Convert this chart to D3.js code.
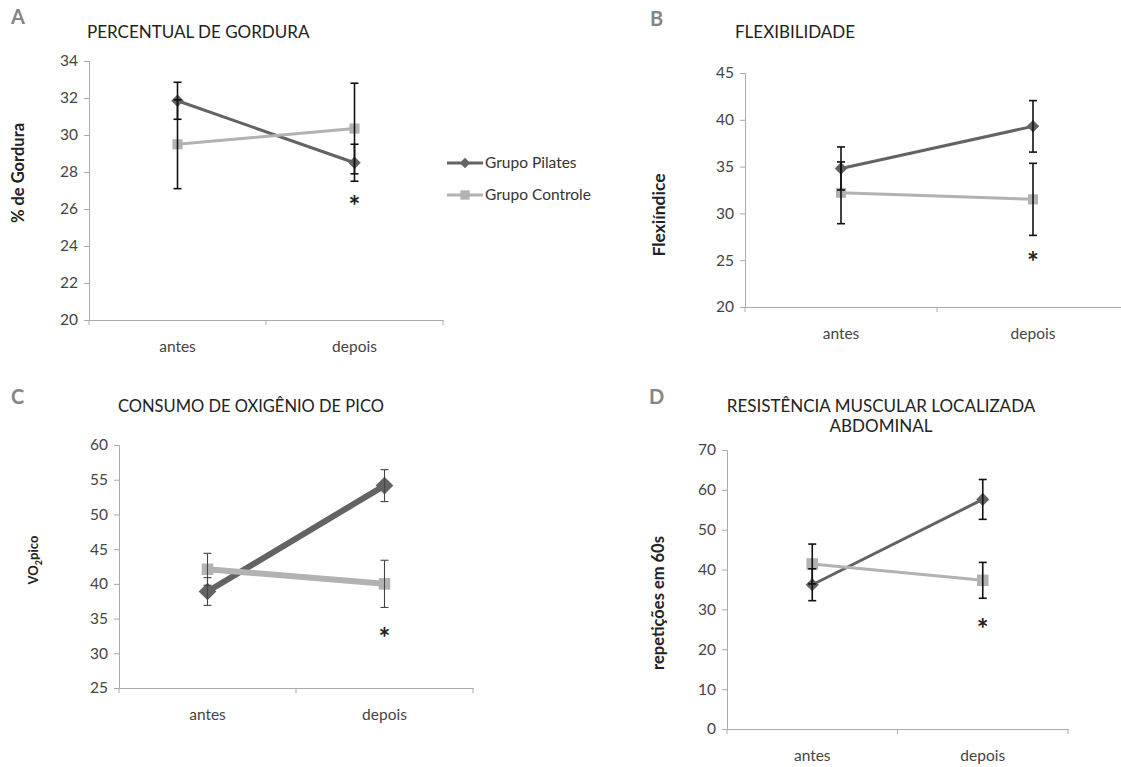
<!DOCTYPE html>
<html>
<head>
<meta charset="utf-8">
<script src="https://cdn.jsdelivr.net/npm/d3@7"></script>
<style>
  body { margin: 0; background: #fff; }
  text { font-family: Lato, "Open Sans", sans-serif; }
</style>
</head>
<body>
<script>
"use strict";

// Width and height
let w = 1121;
let h = 767;

let categories = ["antes", "depois"];
let seriesNames = ["Grupo Pilates", "Grupo Controle"];

// A - percentual de gordura
let gorduraPilates = [31.85, 28.5];
let gorduraPilatesErr = [1.0, 1.0];
let gorduraControle = [29.5, 30.35];
let gorduraControleErr = [2.4, 2.45];
let gorduraTicks = [20, 22, 24, 26, 28, 30, 32, 34];

// B - flexibilidade
let flexPilates = [34.8, 39.3];
let flexPilatesErr = [2.3, 2.75];
let flexControle = [32.2, 31.5];
let flexControleErr = [3.3, 3.85];
let flexTicks = [20, 25, 30, 35, 40, 45];

// C - VO2 pico
let vo2Pilates = [38.9, 54.15];
let vo2PilatesErr = [2.0, 2.3];
let vo2Controle = [42.1, 40.0];
let vo2ControleErr = [2.3, 3.4];
let vo2Ticks = [25, 30, 35, 40, 45, 50, 55, 60];

// D - resistencia abdominal
let abdPilates = [36.2, 57.6];
let abdPilatesErr = [4.0, 5.0];
let abdControle = [41.4, 37.3];
let abdControleErr = [5.0, 4.5];
let abdTicks = [0, 10, 20, 30, 40, 50, 60, 70];

let darkGray = "#636363";
let lightGray = "#b2b2b2";

let svg = d3.select("body")
    .append("svg")
    .attr("width", w)
    .attr("height", h);

function drawPanel(p) {
    let g = svg.append("g");

    let x = d3.scaleBand().domain(categories).range([p.x0, p.x1]);
    let y = d3.scaleLinear().domain(p.domain).range([p.y1, p.y0]);

    // axes
    let yAxis = g.append("g")
        .attr("transform", `translate(${p.x0},0)`)
        .call(d3.axisLeft(y).tickValues(p.ticks).tickSize(5).tickPadding(6));
    let xAxis = g.append("g")
        .attr("transform", `translate(0,${p.y1})`)
        .call(d3.axisBottom(x).tickSize(0).tickPadding(p.xPad));
    // excel-style ticks between categories
    xAxis.selectAll(".boundary")
        .data([p.x0, x("depois"), p.x1])
        .enter().append("line")
        .attr("x1", d => d).attr("x2", d => d)
        .attr("y1", 0).attr("y2", 5)
        .attr("stroke", "#aaa");
    for (let ax of [yAxis, xAxis]) {
        ax.select(".domain").attr("stroke", "#aaa");
        ax.selectAll(".tick line").attr("stroke", "#aaa");
        ax.selectAll("text").attr("fill", "#444").style("font-size", "15.5px");
        ax.attr("font-family", null);
    }

    let cx = d => x(d) + x.bandwidth() / 2;

    let series = [
        {vals: p.pil, err: p.pilErr, color: darkGray, shape: d3.symbolDiamond2, size: p.diaSize},
        {vals: p.con, err: p.conErr, color: lightGray, shape: d3.symbolSquare2, size: p.sqSize}
    ];

    let line = d3.line()
        .x((d, i) => cx(categories[i]))
        .y(d => y(d));

    for (let s of series) {
        g.append("path")
            .datum(s.vals)
            .attr("d", line)
            .attr("fill", "none")
            .attr("stroke", s.color)
            .attr("stroke-width", p.lw);
    }
    for (let s of series) {
        g.selectAll(null)
            .data(s.vals)
            .enter().append("path")
            .attr("transform", (d, i) => `translate(${cx(categories[i])},${y(d)})`)
            .attr("d", d3.symbol().type(s.shape).size(s.size))
            .attr("fill", s.color);
    }
    for (let s of series) {
        let eg = g.selectAll(null)
            .data(s.vals.map((v, i) => ({c: categories[i], v: v, e: s.err[i]})))
            .enter().append("g")
            .attr("stroke", p.errColor)
            .attr("stroke-width", p.errW);
        eg.append("line")
            .attr("x1", d => cx(d.c)).attr("x2", d => cx(d.c))
            .attr("y1", d => y(d.v + d.e)).attr("y2", d => y(d.v - d.e));
        for (let sgn of [1, -1]) {
            eg.append("line")
                .attr("x1", d => cx(d.c) - 4).attr("x2", d => cx(d.c) + 4)
                .attr("y1", d => y(d.v + sgn * d.e)).attr("y2", d => y(d.v + sgn * d.e));
        }
    }

    // significance mark (centre of the glyph sits on starAt)
    g.append("text")
        .attr("x", cx("depois"))
        .attr("y", y(p.starAt) + 16)
        .attr("text-anchor", "middle")
        .attr("fill", "#222")
        .style("font-size", "28px")
        .style("font-weight", "bold")
        .text("*");

    // panel letter
    g.append("text")
        .attr("x", p.letterX).attr("y", p.letterY)
        .attr("fill", "#858585")
        .style("font-size", "20px")
        .style("font-weight", "bold")
        .text(p.letter);

    // title
    let t = g.append("text")
        .attr("x", p.titleX).attr("y", p.titleY)
        .attr("text-anchor", p.titleAnchor)
        .attr("fill", "#222")
        .style("font-size", p.titleSize);
    p.title.forEach((s, i) => {
        t.append("tspan").attr("x", p.titleX).attr("dy", i ? 20 : 0).text(s);
    });

    // y label
    let yl = g.append("text")
        .attr("transform", `translate(${p.ylabX},${p.ylabY}) rotate(-90)`)
        .attr("text-anchor", "middle")
        .attr("fill", "#222")
        .style("font-size", p.ylabSize)
        .style("font-weight", "bold");
    if (p.ylabSub) {
        yl.append("tspan").text("VO");
        yl.append("tspan").attr("dy", 4).style("font-size", "9px").text("2");
        yl.append("tspan").attr("dy", -4).text("pico");
    } else {
        yl.text(p.ylab);
    }
}

drawPanel({
    letter: "A", letterX: 11, letterY: 24,
    title: ["PERCENTUAL DE GORDURA"], titleX: 87, titleY: 38, titleAnchor: "start", titleSize: "17px",
    ylab: "% de Gordura", ylabX: 24, ylabY: 173, ylabSize: "16.5px",
    x0: 89, x1: 443, y0: 61, y1: 320, domain: [20, 34], ticks: gorduraTicks, xPad: 21,
    pil: gorduraPilates, pilErr: gorduraPilatesErr, con: gorduraControle, conErr: gorduraControleErr,
    lw: 3, diaSize: 100, sqSize: 130, errColor: "#111", errW: 1.6, starAt: 26.5
});

drawPanel({
    letter: "B", letterX: 650, letterY: 26,
    title: ["FLEXIBILIDADE"], titleX: 735, titleY: 38, titleAnchor: "start", titleSize: "17px",
    ylab: "Flexiíndice", ylabX: 665, ylabY: 215, ylabSize: "17.5px",
    x0: 745, x1: 1129, y0: 73, y1: 307, domain: [20, 45], ticks: flexTicks, xPad: 21,
    pil: flexPilates, pilErr: flexPilatesErr, con: flexControle, conErr: flexControleErr,
    lw: 3, diaSize: 100, sqSize: 130, errColor: "#111", errW: 1.6, starAt: 25.4
});

drawPanel({
    letter: "C", letterX: 11, letterY: 404,
    title: ["CONSUMO DE OXIGÊNIO DE PICO"], titleX: 118, titleY: 412, titleAnchor: "start", titleSize: "16.5px",
    ylabSub: true, ylabX: 38, ylabY: 560, ylabSize: "13px",
    x0: 119, x1: 473, y0: 445, y1: 688, domain: [25, 60], ticks: vo2Ticks, xPad: 21,
    pil: vo2Pilates, pilErr: vo2PilatesErr, con: vo2Controle, conErr: vo2ControleErr,
    lw: 6, diaSize: 200, sqSize: 170, errColor: "#444", errW: 1.1, starAt: 33.1
});

drawPanel({
    letter: "D", letterX: 649, letterY: 404,
    title: ["RESISTÊNCIA MUSCULAR LOCALIZADA", "ABDOMINAL"], titleX: 881, titleY: 412, titleAnchor: "middle", titleSize: "17px",
    ylab: "repetições em 60s", ylabX: 664, ylabY: 603, ylabSize: "16.5px",
    x0: 727, x1: 1068, y0: 450, y1: 729, domain: [0, 70], ticks: abdTicks, xPad: 21,
    pil: abdPilates, pilErr: abdPilatesErr, con: abdControle, conErr: abdControleErr,
    lw: 3, diaSize: 110, sqSize: 170, errColor: "#111", errW: 1.6, starAt: 26.6
});

// legend
let legend = svg.append("g");
let legendItems = [
    {name: seriesNames[0], color: darkGray, shape: d3.symbolDiamond2, size: 70, y: 163},
    {name: seriesNames[1], color: lightGray, shape: d3.symbolSquare2, size: 110, y: 195}
];
for (let it of legendItems) {
    legend.append("line")
        .attr("x1", 447).attr("x2", 483)
        .attr("y1", it.y).attr("y2", it.y)
        .attr("stroke", it.color).attr("stroke-width", 3);
    legend.append("path")
        .attr("transform", `translate(465,${it.y})`)
        .attr("d", d3.symbol().type(it.shape).size(it.size))
        .attr("fill", it.color);
    legend.append("text")
        .attr("x", 485).attr("y", it.y + 5)
        .attr("fill", "#333")
        .style("font-size", "15.5px")
        .text(it.name);
}
</script>
</body>
</html>
